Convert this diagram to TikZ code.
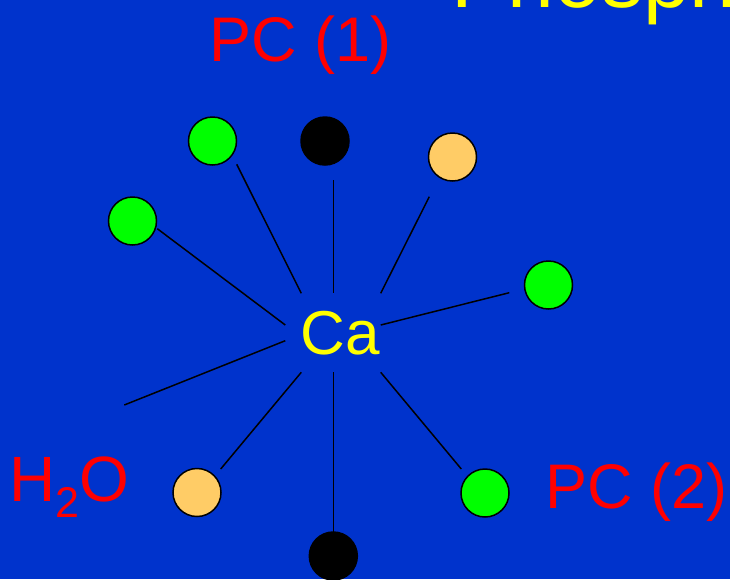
\documentclass[tikz,border=0pt]{standalone}
\usepackage{fontspec}
\setmainfont{Liberation Sans}
\definecolor{bgblue}{RGB}{0,51,204}
\definecolor{ballgreen}{RGB}{0,255,0}
\definecolor{ballorange}{RGB}{255,204,102}
\definecolor{lblred}{RGB}{255,0,0}
\definecolor{txtyellow}{RGB}{255,255,0}
\begin{document}
\begin{tikzpicture}[x=1pt,y=-1pt,
  ball/.style={circle,draw=black,line width=1.5pt,minimum size=48pt,inner sep=0pt},
  greenball/.style={ball,fill=ballgreen},
  orangeball/.style={ball,fill=ballorange},
  blackball/.style={ball,fill=black},
  bond/.style={draw=black,line width=1.5pt},
  lbl/.style={inner sep=0pt,anchor=base west,text=lblred,font=\fontsize{63}{63}\selectfont}]
\useasboundingbox (0,0) rectangle (730,579);
\begin{scope}
\clip (0,0) rectangle (730,579);
\fill[bgblue] (0,0) rectangle (730,579);
% title (cut off)
\node[inner sep=0pt,anchor=base west,text=txtyellow,font=\fontsize{84}{84}\selectfont] (title) at (451.5,7.5) {Phosph};
% labels
\node[lbl] (pc1) at (209.5,61) {PC (1)};
\node[lbl] (pc2) at (545.5,508) {PC (2)};
\node[lbl,font=\fontsize{64}{64}\selectfont] (h2o) at (9,501) {H\raisebox{-16pt}{\fontsize{43}{43}\selectfont 2}O};
\node[inner sep=0pt,anchor=base west,text=txtyellow,font=\fontsize{62}{62}\selectfont] (ca) at (300.5,354.5) {Ca};
% balls
\node[greenball] (g1) at (212.5,141) {};
\node[blackball] (k1) at (325,141) {};
\node[orangeball] (o1) at (452.5,157) {};
\node[greenball] (g2) at (132.5,221) {};
\node[greenball] (g3) at (548.5,285) {};
\node[orangeball] (o2) at (197,492.5) {};
\node[greenball] (g4) at (485,493) {};
\node[blackball] (k2) at (333.3,556) {};
% bond end points
\coordinate (a1) at (236.7,164.3); \coordinate (b1) at (301.3,293.3);
\coordinate (a2) at (333.3,180);   \coordinate (b2) at (333.3,293.3);
\coordinate (a3) at (429.3,196.7); \coordinate (b3) at (380.7,293.3);
\coordinate (a4) at (157.3,228.7); \coordinate (b4) at (285.3,325);
\coordinate (a5) at (509.3,292.7); \coordinate (b5) at (380.7,325);
\coordinate (a6) at (124.3,405);   \coordinate (b6) at (285.3,340.7);
\coordinate (a7) at (220.7,469);   \coordinate (b7) at (301.3,372.3);
\coordinate (a8) at (333.3,532.3); \coordinate (b8) at (333.3,372.3);
\coordinate (a9) at (461.3,469);   \coordinate (b9) at (380.7,372.3);
\foreach \i in {1,...,9} {\draw[bond] (a\i) -- (b\i);}
\end{scope}
\end{tikzpicture}
\end{document}
